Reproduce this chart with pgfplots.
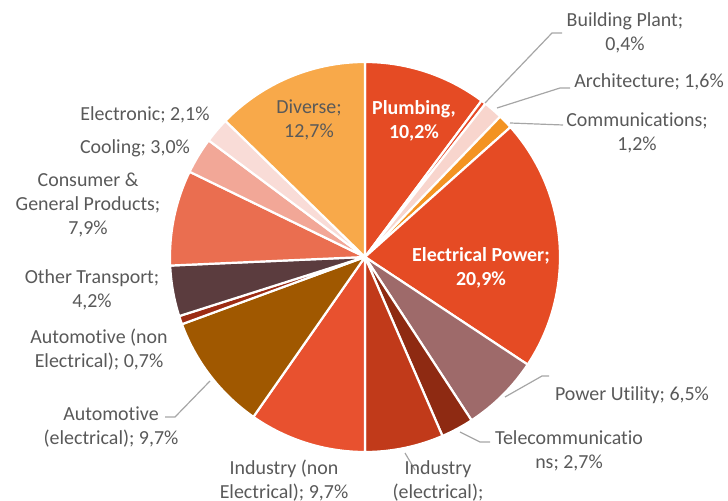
\documentclass[border=0pt]{standalone}
\usepackage{pgfplots}
\usepackage{pgfplotstable}
\pgfplotsset{compat=1.18}
\usepackage{fontspec}
\setmainfont[Ligatures=NoCommon]{Carlito}
\definecolor{s0}{HTML}{E54B24}
\definecolor{s1}{HTML}{E64A27}
\definecolor{s2}{HTML}{F8D5CD}
\definecolor{s3}{HTML}{F39322}
\definecolor{s4}{HTML}{E54B24}
\definecolor{s5}{HTML}{9E6A6A}
\definecolor{s6}{HTML}{8E2A12}
\definecolor{s7}{HTML}{C13A1A}
\definecolor{s8}{HTML}{E8512F}
\definecolor{s9}{HTML}{A05800}
\definecolor{s10}{HTML}{9C2C14}
\definecolor{s11}{HTML}{5B3C3E}
\definecolor{s12}{HTML}{EA6E50}
\definecolor{s13}{HTML}{F2A797}
\definecolor{s14}{HTML}{F9DCD7}
\definecolor{s15}{HTML}{F8A94A}
\definecolor{lblgray}{HTML}{595959}
\definecolor{leadgray}{HTML}{A6A6A6}
\tikzset{lbl/.style={font=\fontsize{20}{24}\selectfont, text=lblgray, align=center, inner sep=0pt},
  inlbl/.style={font=\fontsize{20}{24}\selectfont\bfseries, text=white, align=center, inner sep=0pt},
  lead/.style={leadgray, line width=1.2bp}}
% share of each sector, clockwise from 12 o'clock
\pgfplotstableread{
value
10.2
0.4
1.6
1.2
20.9
6.5
2.7
6.5
9.7
9.7
0.7
4.2
7.9
3.0
2.1
12.7
}\piedata
\begin{document}
\begin{tikzpicture}
\useasboundingbox (0,0) rectangle (728bp,501bp);
\begin{axis}[hide axis, scale only axis, width=728bp, height=501bp,
  xmin=0, xmax=728, ymin=0, ymax=501, clip=true]
\pgfplotstablegetrowsof{\piedata}
\pgfmathtruncatemacro\lastrow{\pgfplotsretval-1}
\gdef\cumsum{0}
\pgfplotsforeachungrouped \i in {0,...,\lastrow}{%
  \pgfplotstablegetelem{\i}{value}\of\piedata
  \let\sliceval\pgfplotsretval
  \pgfmathsetmacro\angA{90-3.6*\cumsum}%
  \pgfmathsetmacro\cumnew{\cumsum+\sliceval}%
  \pgfmathsetmacro\angB{90-3.6*\cumnew}%
  \global\let\cumsum\cumnew
  \edef\temp{\noexpand\addplot[fill=s\i, draw=white, line width=2.2bp, line join=round, domain=\angA:\angB, samples=80] ({365+195*cos(x)},{244+195*sin(x)}) -- (axis cs:365,244) -- cycle;}%
  \temp
}
% leader lines
\draw[lead] (axis cs:485,398) -- (axis cs:552,468) -- (axis cs:562,468);
\draw[lead] (axis cs:497,393) -- (axis cs:560,413) -- (axis cs:570,413);
\draw[lead] (axis cs:510,378) -- (axis cs:563,376);
\draw[lead] (axis cs:505,104) -- (axis cs:542,125) -- (axis cs:549,125);
\draw[lead] (axis cs:460,69) -- (axis cs:480,59) -- (axis cs:490,59);
\draw[lead] (axis cs:405,48) -- (axis cs:415,31);
\draw[lead] (axis cs:210,120) -- (axis cs:175,84) -- (axis cs:165,84);
% labels
\node[lbl] at (axis cs:625,468) {Building Plant;\\0,4\%};
\node[lbl] at (axis cs:649,419) {Architecture; 1,6\%};
\node[lbl] at (axis cs:637,368) {Communications;\\1,2\%};
\node[lbl] at (axis cs:632,106) {Power Utility; 6,5\%};
\node[lbl] at (axis cs:569,50) {Telecommunicatio\\ns; 2,7\%};
\node[lbl] at (axis cs:438,8) {Industry\\(electrical);\\6,5\%};
\node[lbl] at (axis cs:284,20) {Industry (non\\Electrical); 9,7\%};
\node[lbl] at (axis cs:111,74) {Automotive\\(electrical); 9,7\%};
\node[lbl] at (axis cs:99,151) {Automotive (non\\Electrical); 0,7\%};
\node[lbl] at (axis cs:92,211) {Other Transport;\\4,2\%};
\node[lbl] at (axis cs:88,296) {Consumer \&\\General Products;\\7,9\%};
\node[lbl] at (axis cs:135,353) {Cooling; 3,0\%};
\node[lbl] at (axis cs:145,386) {Electronic; 2,1\%};
\node[lbl] at (axis cs:309,381) {Diverse;\\12,7\%};
\node[inlbl] at (axis cs:414,380) {Plumbing,\\10,2\%};
\node[inlbl] at (axis cs:481,233) {Electrical Power;\\20,9\%};
\end{axis}
\end{tikzpicture}
\end{document}
